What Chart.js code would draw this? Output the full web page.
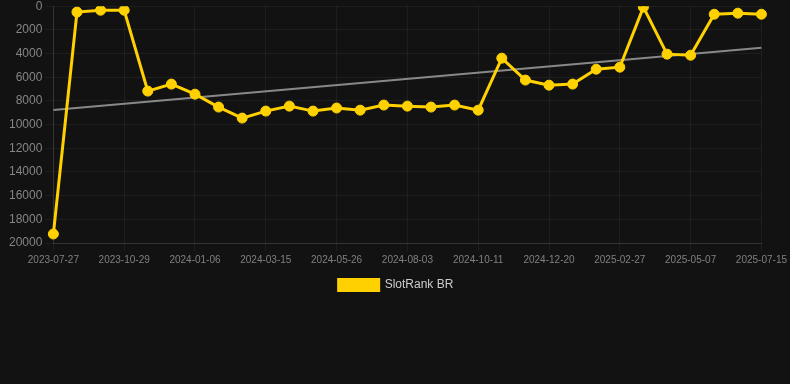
<!DOCTYPE html>
<html>
<head>
<meta charset="utf-8">
<script src="https://cdn.jsdelivr.net/npm/chart.js@4"></script>
<style>
    html, body { margin: 0; padding: 0; background: #121212; overflow: hidden; }
    .chart-wrap { position: relative; top: -4px; width: 790px; height: 305px; }
</style>
</head>
<body>
<div class="chart-wrap"><canvas id="rankChart"></canvas></div>
<script>
const dates = [
    '2023-07-27', '2023-08-28', '2023-09-28', '2023-10-29', '2023-11-21', '2023-12-14',
    '2024-01-06', '2024-01-29', '2024-02-21', '2024-03-15', '2024-04-08', '2024-05-02',
    '2024-05-26', '2024-06-18', '2024-07-11', '2024-08-03', '2024-08-26', '2024-09-18',
    '2024-10-11', '2024-11-03', '2024-11-26', '2024-12-20', '2025-01-12', '2025-02-04',
    '2025-02-27', '2025-03-22', '2025-04-14', '2025-05-07', '2025-05-30', '2025-06-22',
    '2025-07-15'
];
const ranks = [
    19240, 500, 340, 340, 7170, 6580, 7430, 8520, 9450, 8860, 8440,
    8860, 8600, 8780, 8350, 8440, 8520, 8350, 8780, 4390, 6240,
    6670, 6580, 5320, 5150, 80, 4050, 4140, 680, 590, 680
];
const yTicks = [0, 2000, 4000, 6000, 8000, 10000, 12000, 14000, 16000, 18000, 20000];

// least squares trend over the rank series
function trendLine(values) {
    const n = values.length;
    let sx = 0, sy = 0, sxy = 0, sxx = 0;
    values.forEach(function(v, i) {
        sx += i; sy += v; sxy += i * v; sxx += i * i;
    });
    const slope = (n * sxy - sx * sy) / (n * sxx - sx * sx);
    const icpt = (sy - slope * sx) / n;
    return values.map(function(v, i) {
        return (i === 0 || i === n - 1) ? icpt + slope * i : null;
    });
}

document.addEventListener('DOMContentLoaded', function() {
    Chart.defaults.font.family = '"Liberation Sans", Arial, sans-serif';

    const ctx = document.getElementById('rankChart').getContext('2d');
    new Chart(ctx, {
        type: 'line',
        data: {
            labels: dates,
            datasets: [{
                label: 'SlotRank BR',
                data: ranks,
                borderColor: '#ffd100',
                backgroundColor: '#ffd100',
                borderWidth: 3,
                pointRadius: 5,
                pointBorderWidth: 1,
                pointHoverRadius: 6,
                tension: 0
            }, {
                label: 'trend',
                data: trendLine(ranks),
                borderColor: 'rgba(150, 150, 150, 0.9)',
                borderWidth: 2,
                pointRadius: 0,
                spanGaps: true
            }]
        },
        options: {
            responsive: true,
            maintainAspectRatio: false,
            animation: false,
            layout: { padding: { left: 6, right: 4 } },
            plugins: {
                legend: {
                    position: 'bottom',
                    labels: {
                        color: '#cccccc',
                        font: { size: 12 },
                        boxWidth: 40,
                        boxHeight: 11,
                        filter: function(item) { return item.text !== 'trend'; }
                    }
                },
                tooltip: { enabled: false }
            },
            scales: {
                x: {
                    grid: { color: 'rgba(255, 255, 255, 0.05)' },
                    border: { color: 'rgba(255, 255, 255, 0.1)' },
                    ticks: {
                        color: '#808080',
                        font: { size: 10 },
                        maxRotation: 0,
                        autoSkip: true,
                        maxTicksLimit: 11
                    }
                },
                y: {
                    reverse: true,
                    min: 0,
                    max: 20000,
                    afterBuildTicks: function(axis) {
                        axis.ticks = yTicks.map(function(v) { return { value: v }; });
                    },
                    grid: { color: 'rgba(255, 255, 255, 0.05)' },
                    border: { color: 'rgba(255, 255, 255, 0.1)' },
                    ticks: {
                        color: '#858585',
                        font: { size: 12 },
                        callback: function(value) { return String(value); }
                    }
                }
            }
        }
    });
});
</script>
</body>
</html>
